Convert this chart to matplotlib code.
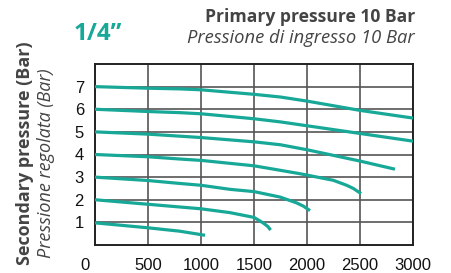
import matplotlib
matplotlib.use("Agg")
import matplotlib.pyplot as plt
import matplotlib.transforms as mtransforms

# Data (flow l/min, secondary pressure bar)
c7_x = [0, 500, 800, 1000, 1500, 1750, 2000, 2500, 3000]
c7_y = [7.0, 6.93, 6.9, 6.86, 6.66, 6.54, 6.36, 5.95, 5.61]
c6_x = [0, 500, 800, 1000, 1500, 1750, 2000, 2500, 3000]
c6_y = [6.0, 5.9, 5.85, 5.8, 5.58, 5.44, 5.27, 4.93, 4.59]
c5_x = [0, 500, 800, 1000, 1500, 1750, 2000, 2500, 2830]
c5_y = [5.0, 4.9, 4.81, 4.75, 4.56, 4.43, 4.21, 3.71, 3.35]
c4_x = [0, 500, 800, 1000, 1500, 1700, 1934, 2248, 2374, 2437, 2510]
c4_y = [4.0, 3.9, 3.8, 3.74, 3.5, 3.34, 3.15, 2.86, 2.64, 2.5, 2.27]
c3_x = [0, 500, 800, 1000, 1274, 1500, 1745, 1903, 1965, 2028]
c3_y = [3.0, 2.85, 2.72, 2.64, 2.46, 2.36, 2.12, 1.86, 1.72, 1.52]
c2_x = [0, 500, 800, 1000, 1274, 1500, 1588, 1630, 1657]
c2_y = [2.0, 1.8, 1.68, 1.6, 1.43, 1.22, 0.97, 0.82, 0.66]
c1_x = [0, 500, 800, 1038]
c1_y = [0.98, 0.76, 0.61, 0.43]

curves = [(c7_x, c7_y), (c6_x, c6_y), (c5_x, c5_y), (c4_x, c4_y),
          (c3_x, c3_y), (c2_x, c2_y), (c1_x, c1_y)]
x_ticks = [0, 500, 1000, 1500, 2000, 2500, 3000]
y_ticks = [1, 2, 3, 4, 5, 6, 7]

teal = "#17a898"
dark = "#444444"

fig = plt.figure(figsize=(4.51, 2.73), dpi=100)
ax = fig.add_axes([95/451, 28/273, 318/451, 181/273])

for xs, ys in curves:
    ax.plot(xs, ys, color=teal, lw=2.3, solid_capstyle="butt", zorder=3)

ax.set_xlim(0, 3000)
ax.set_ylim(0, 8)
ax.set_xticks(x_ticks)
ax.set_yticks(y_ticks)
ax.grid(True, color="#555555", lw=1.2)
ax.tick_params(axis="both", length=0, labelsize=12, colors="#111111")
ax.tick_params(axis="x", pad=9)
ax.tick_params(axis="y", pad=8)
for lbl in ax.get_xticklabels() + ax.get_yticklabels():
    lbl.set_family("Liberation Sans")
# first x label sits left of the axis origin in the reference
first = ax.get_xticklabels()[0]
first.set_transform(first.get_transform() +
                    mtransforms.ScaledTranslation(-10/100, 0, fig.dpi_scale_trans))
for s in ax.spines.values():
    s.set_linewidth(1.4)
    s.set_color("#222222")

fig.text(415/451, 1 - 17/273, "Primary pressure 10 Bar", ha="right", va="center",
         fontsize=12.6, fontweight="bold", color=dark, family="Open Sans")
fig.text(415/451, 1 - 38/273, "Pressione di ingresso 10 Bar", ha="right", va="center",
         fontsize=13.2, style="italic", color=dark, family="Open Sans")
fig.text(74/451, 1 - 34/273, "1/4\u201d", ha="left", va="center",
         fontsize=17.5, fontweight="bold", color=teal, family="Open Sans")
fig.text(25/451, 1 - 153/273, "Secondary pressure (Bar)", rotation=90, ha="center",
         va="center", fontsize=13, fontweight="bold", color=dark, family="Open Sans")
fig.text(46/451, 1 - 163/273, "Pressione regolata (Bar)", rotation=90, ha="center",
         va="center", fontsize=13, style="italic", color=dark, family="Open Sans")

fig.savefig("out.png", dpi=100)
